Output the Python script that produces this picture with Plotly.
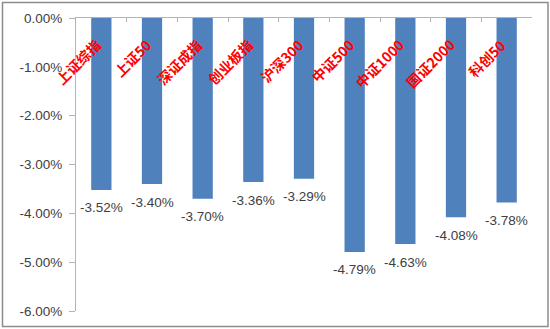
import plotly.graph_objects as go

# Index names and their declines (%)
categories = ["上证综指", "上证50", "深证成指", "创业板指", "沪深300",
              "中证500", "中证1000", "国证2000", "科创50"]
changes = [-3.52, -3.40, -3.70, -3.36, -3.29, -4.79, -4.63, -4.08, -3.78]
value_labels = ["-3.52%", "-3.40%", "-3.70%", "-3.36%", "-3.29%",
                "-4.79%", "-4.63%", "-4.08%", "-3.78%"]
y_tickvals = [0, -1, -2, -3, -4, -5, -6]
y_ticktext = ["0.00%", "-1.00%", "-2.00%", "-3.00%", "-4.00%", "-5.00%", "-6.00%"]

W, H = 550, 329
ML, MR, MT, MB = 76, 18, 18, 18
PW, PH = W - ML - MR, H - MT - MB

AXIS_GRAY = "#b3b3b3"
TEXT_GRAY = "#404040"
BASE_FONT = "Liberation Sans"

fig = go.Figure(
    go.Bar(
        x=categories,
        y=changes,
        marker=dict(color="#4F81BD", line=dict(width=0)),
        hoverinfo="skip",
    )
)

annotations = []
# value labels under each bar end
for cat, val, lab in zip(categories, changes, value_labels):
    annotations.append(dict(
        x=cat, y=val, xref="x", yref="y", text=lab, showarrow=False,
        xanchor="center", yanchor="middle", yshift=-18,
        font=dict(family=BASE_FONT, size=13.5, color=TEXT_GRAY),
    ))
# rotated red category names hanging below the zero line
for cat in categories:
    annotations.append(dict(
        x=cat, y=0, xref="x", yref="y", text=cat, showarrow=False,
        textangle=-45, xanchor="right", yanchor="top",
        xshift=6, yshift=-14,
        font=dict(family="Noto Sans CJK SC", size=14, color="#FF0000",
                  weight="bold"),
    ))

# chart-area frame
def px_x(v):
    return (v - ML) / PW

def px_y(v):
    return (H - MB - v) / PH

fig.add_shape(type="rect", xref="paper", yref="paper",
              x0=px_x(2.5), x1=px_x(548), y0=px_y(326.5), y1=px_y(2.5),
              line=dict(color="#8c8c8c", width=1.5), fillcolor="rgba(0,0,0,0)")

fig.update_layout(
    width=W, height=H,
    margin=dict(l=ML, r=MR, t=MT, b=MB, pad=0, autoexpand=False),
    paper_bgcolor="white", plot_bgcolor="white",
    bargap=0.6,
    showlegend=False,
    annotations=annotations,
    xaxis=dict(
        range=[-0.5, len(categories) - 0.5], automargin=False,
        side="top", showline=True, linecolor=AXIS_GRAY, linewidth=1,
        ticks="inside", tickson="boundaries", ticklen=4, tickcolor=AXIS_GRAY,
        showticklabels=False, showgrid=False, zeroline=False, fixedrange=True,
    ),
    yaxis=dict(
        range=[-6, 0], tickvals=y_tickvals, ticktext=y_ticktext,
        automargin=False,
        showline=True, linecolor=AXIS_GRAY, linewidth=1,
        ticks="outside", ticklen=6, tickcolor=AXIS_GRAY,
        ticklabelstandoff=4,
        tickfont=dict(family=BASE_FONT, size=13.5, color=TEXT_GRAY),
        showgrid=False, zeroline=False, fixedrange=True,
    ),
)

fig.write_html("out.html")
